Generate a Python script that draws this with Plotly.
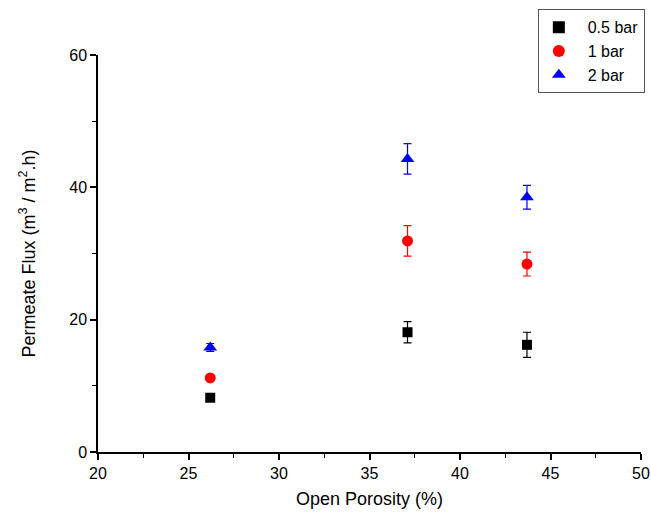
import plotly.graph_objects as go

porosity = [26.2, 37.1, 43.7]
flux_05 = [8.2, 18.1, 16.2]
err_05 = [0.3, 1.6, 1.9]
flux_1 = [11.2, 31.9, 28.4]
err_1 = [0.3, 2.3, 1.8]
flux_2 = [15.8, 44.3, 38.5]
err_2 = [0.6, 2.3, 1.8]
labels = ["0.5 bar", "1 bar", "2 bar"]
colors = ["black", "red", "blue"]
symbols = ["square", "circle", "triangle-up"]
sizes = [10, 11, 12]

FONT = "Liberation Sans, Arial"

fig = go.Figure()
for y, e, lab, c, s, sz in zip([flux_05, flux_1, flux_2], [err_05, err_1, err_2],
                               labels, colors, symbols, sizes):
    fig.add_trace(go.Scatter(
        x=porosity, y=y, mode="markers", name="\u00a0\u00a0" + lab,
        marker=dict(color=c, symbol=s, size=sz),
        error_y=dict(type="data", array=e, color=c, thickness=1.2, width=4),
    ))

axis_common = dict(showline=True, linecolor="black", linewidth=1.5,
                   ticks="outside", ticklen=6, tickwidth=1.5, tickcolor="black",
                   showgrid=False, zeroline=False, mirror=False,
                   tickfont=dict(family=FONT, size=16, color="black"),
                   title_font=dict(family=FONT, size=18, color="black"))

fig.update_xaxes(range=[20, 50], dtick=5, title_text="Open Porosity (%)",
                 minor=dict(dtick=2.5, ticks="outside", ticklen=4, tickwidth=1.2, tickcolor="black"),
                 title_standoff=11, **axis_common)
fig.update_yaxes(range=[0, 60], dtick=20, title_text="Permeate Flux (m<sup>3</sup> / m<sup>2</sup>.h)",
                 minor=dict(dtick=10, ticks="outside", ticklen=4, tickwidth=1.2, tickcolor="black"),
                 title_standoff=29, **axis_common)

fig.update_layout(
    width=651, height=515,
    margin=dict(l=98, r=10, t=55, b=63, autoexpand=False),
    paper_bgcolor="white", plot_bgcolor="white",
    font=dict(family=FONT, size=16, color="black"),
    legend=dict(x=0.81, y=1.115, xanchor="left", yanchor="top",
                bordercolor="#555", borderwidth=1, bgcolor="white",
                font=dict(size=16), itemsizing="constant", tracegroupgap=0),
    showlegend=True,
)

fig.write_html("out.html", config={"displayModeBar": False},
               post_script="document.body.style.margin='0';document.body.style.overflow='hidden';")
